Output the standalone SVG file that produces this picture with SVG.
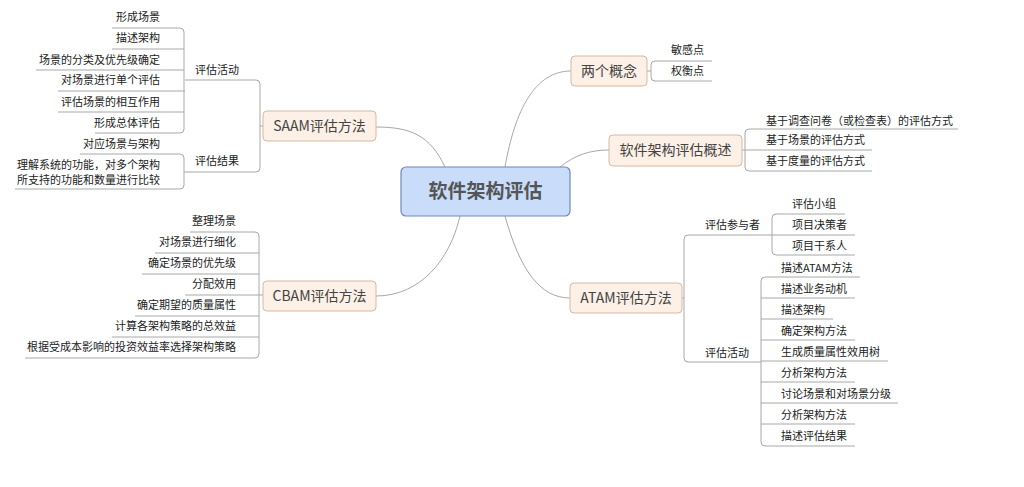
<svg xmlns="http://www.w3.org/2000/svg" width="1024" height="487" viewBox="0 0 1024 487">
<style>
text{font-family:"Noto Sans CJK SC","Liberation Sans",sans-serif;fill:#222;font-size:11px}
.r{text-anchor:end}
.m{text-anchor:middle;font-size:14px;fill:#444}
.c{text-anchor:middle;font-size:19px;font-weight:bold;fill:#555}
.box{fill:#fdf0e6;stroke:#d6b9a2;stroke-width:1}
.cb{fill:#c9dcfa;stroke:#7089b8;stroke-width:1.2}
path{fill:none;stroke:#a8a8a8;stroke-width:1}
</style>
<rect width="1024" height="487" fill="#fff"/>
<g id="connectors">
<path d="M445,167 C430,135 410,127 376,127"/>
<path d="M460,216 C450,260 420,296 376,296"/>
<path d="M505,167 C515,110 535,71 571,71"/>
<path d="M560,167 C575,155 590,150 609,150"/>
<path d="M505,216 C520,270 540,298 570,298"/>
<!-- SAAM -->
<path d="M263,126 H260 M185,80 H256 Q260,80 260,84 V168 Q260,172 256,172 H185"/>
<path d="M112,28 H180 Q184,28 184,32 V129 Q184,133 180,133 H95 M112,49 H184 M36,70 H184 M58,91 H184 M58,112 H184"/>
<path d="M185,91 H184"/>
<path d="M80,154 H180 Q184,154 184,158 V185 Q184,189 180,189 H15 M184,172 H185"/>
<!-- CBAM -->
<path d="M190,232 H255 Q259,232 259,236 V354 Q259,358 255,358 H25 M155,253 H259 M142,274 H259 M185,295 H263 M135,316 H259 M112,337 H259"/>
<!-- 两个概念 -->
<path d="M647,71 H651 M712,61 H655 Q651,61 651,65 V77 Q651,81 655,81 H712"/>
<!-- 概述 -->
<path d="M742,150 H745 M958,129 H749 Q745,129 745,133 V167 Q745,171 749,171 H872 M745,150 H872"/>
<!-- ATAM -->
<path d="M682,298 H684 M765,235 H688 Q684,235 684,239 V358 Q684,362 688,362 H761"/>
<path d="M845,214 H776 Q772,214 772,218 V251 Q772,255 776,255 H855 M765,235 H855"/>
<path d="M860,277 H765 Q761,277 761,281 V442 Q761,446 765,446 H855 M761,298 H855 M761,319 H833 M761,340 H855 M761,361 H888 M761,382 H855 M761,403 H898 M761,424 H855"/>
</g>
<g id="center"><rect class="cb" x="401" y="167" width="169" height="49" rx="5"/><text class="c" x="485.500" y="198">软件架构评估</text></g>
<g id="saam"><rect class="box" x="263" y="111" width="113" height="30" rx="4"/><text class="m" x="319.500" y="131">SAAM评估方法</text>
<text x="195" y="74">评估活动</text><text x="195" y="165">评估结果</text>
<text class="r" x="160" y="21">形成场景</text><text class="r" x="160" y="42">描述架构</text><text class="r" x="160" y="64">场景的分类及优先级确定</text><text class="r" x="160" y="84">对场景进行单个评估</text><text class="r" x="160" y="106">评估场景的相互作用</text><text class="r" x="160" y="127">形成总体评估</text><text class="r" x="160" y="148">对应场景与架构</text><text class="r" x="160" y="169">理解系统的功能，对多个架构</text><text class="r" x="160" y="184">所支持的功能和数量进行比较</text></g>
<g id="cbam"><rect class="box" x="263" y="281" width="113" height="30" rx="4"/><text class="m" x="319.500" y="301">CBAM评估方法</text>
<text class="r" x="236" y="225">整理场景</text><text class="r" x="236" y="246">对场景进行细化</text><text class="r" x="236" y="267">确定场景的优先级</text><text class="r" x="236" y="288">分配效用</text><text class="r" x="236" y="309">确定期望的质量属性</text><text class="r" x="236" y="330">计算各架构策略的总效益</text><text class="r" x="236" y="351">根据受成本影响的投资效益率选择架构策略</text></g>
<g id="concepts"><rect class="box" x="571" y="56" width="76" height="30" rx="4"/><text class="m" x="609" y="76">两个概念</text>
<text x="671" y="54">敏感点</text><text x="671" y="75">权衡点</text></g>
<g id="overview"><rect class="box" x="609" y="135" width="133" height="31" rx="4"/><text class="m" x="675.500" y="155">软件架构评估概述</text>
<text x="766" y="125">基于调查问卷（或检查表）的评估方式</text><text x="766" y="144">基于场景的评估方式</text><text x="766" y="165">基于度量的评估方式</text></g>
<g id="atam"><rect class="box" x="570" y="283" width="112" height="30" rx="4"/><text class="m" x="626" y="303">ATAM评估方法</text>
<text x="705" y="229">评估参与者</text><text x="705" y="357">评估活动</text>
<text x="792" y="208">评估小组</text><text x="792" y="229">项目决策者</text><text x="792" y="250">项目干系人</text>
<text x="781" y="272">描述ATAM方法</text><text x="781" y="293">描述业务动机</text><text x="781" y="314">描述架构</text><text x="781" y="335">确定架构方法</text><text x="781" y="356">生成质量属性效用树</text><text x="781" y="377">分析架构方法</text><text x="781" y="398">讨论场景和对场景分级</text><text x="781" y="419">分析架构方法</text><text x="781" y="440">描述评估结果</text></g>
</svg>
